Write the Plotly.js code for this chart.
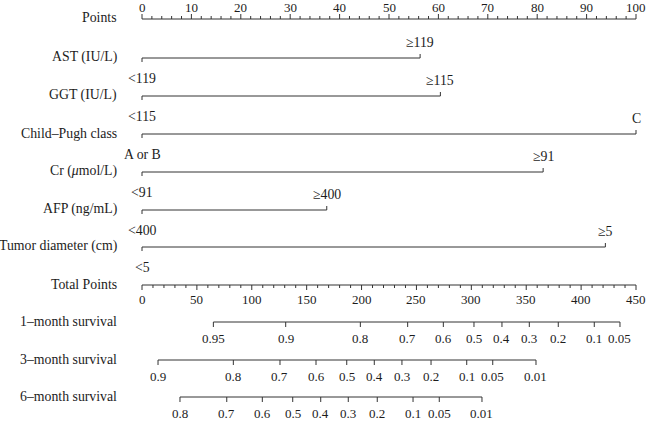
<!DOCTYPE html>
<html>
<head>
<meta charset="utf-8">
<script src="https://cdn.plot.ly/plotly-3.0.1.min.js"></script>
<style>html,body{margin:0;padding:0;background:#fff;}#chart{width:646px;height:429px;}</style>
</head>
<body>
<div id="chart"></div>
<script>
// ---------- DATA ----------
var variableNames = ['AST (IU/L)', 'GGT (IU/L)', 'Child\u2013Pugh class', 'Cr (<i>\u03bc</i>mol/L)', 'AFP (ng/mL)', 'Tumor diameter (cm)'];
var lowLevels  = ['<119', '<115', 'A or B', '<91', '<400', '<5'];
var highLevels = ['\u2265119', '\u2265115', 'C', '\u226591', '\u2265400', '\u22655'];
var highPoints = [56.3, 60.4, 100, 81.2, 37.4, 93.8];   // points for the high level (low level = 0)

var pointsTicks = [0, 10, 20, 30, 40, 50, 60, 70, 80, 90, 100];
var totalTicks  = [0, 50, 100, 150, 200, 250, 300, 350, 400, 450];

var surv1Labels = ['0.95', '0.9', '0.8', '0.7', '0.6', '0.5', '0.4', '0.3', '0.2', '0.1', '0.05'];
var surv1Total  = [65.0, 130.9, 198.9, 242.0, 274.5, 302.4, 327.9, 352.8, 379.2, 412.0, 435.4];
var surv3Labels = ['0.9', '0.8', '0.7', '0.6', '0.5', '0.4', '0.3', '0.2', '0.1', '0.05', '0.01'];
var surv3Total  = [14.6, 83.2, 125.7, 158.5, 186.5, 211.6, 236.8, 263.3, 295.8, 319.5, 358.9];
var surv6Labels = ['0.8', '0.7', '0.6', '0.5', '0.4', '0.3', '0.2', '0.1', '0.05', '0.01'];
var surv6Total  = [34.6, 77.2, 109.6, 137.3, 162.8, 187.9, 214.3, 246.9, 270.8, 309.7];
var survNames = ['1\u2013month survival', '3\u2013month survival', '6\u2013month survival'];

// ---------- LAYOUT CONSTANTS ----------
var W = 646, H = 429;
var X0 = 142, S = 4.94;              // pixel of 0 points, pixels per point
var TOTAL_MAX = 450, POINTS_MAX = 100;
var tp = function (v) { return v * POINTS_MAX / TOTAL_MAX; }; // total points -> points scale
var LABEL_X = (117.5 - X0) / S;
var LINE = '#333333', TXT = '#1c1c1c';
var FONT = 'Liberation Serif, Times New Roman, serif';
var FS_NAME = 13.8, FS_LEVEL = 13.8, FS_TICK = 13;

var rowY = [58, 96, 134, 172, 210, 247];
var pointsY = 19, totalY = 285;
var survY = [322, 360, 397];

var traces = [];
var ann = [];
function seg(xs, ys) {
  traces.push({x: xs, y: ys, mode: 'lines', type: 'scatter', hoverinfo: 'skip',
    line: {color: LINE, width: 1}, showlegend: false});
}
function txt(x, y, t, xa, size) {
  ann.push({x: x, y: y, text: t, showarrow: false, xanchor: xa || 'center', yanchor: 'middle',
    borderpad: 0, font: {family: FONT, size: size, color: TXT}});
}

// Points axis (ticks up, labels above)
(function () {
  var xs = [0, POINTS_MAX], ys = [pointsY, pointsY];
  xs.push(null); ys.push(null);
  for (var v = 0; v <= POINTS_MAX; v += 2) {
    var major = pointsTicks.indexOf(v) >= 0;
    xs.push(v, v, null); ys.push(pointsY, pointsY - (major ? 5 : 3), null);
  }
  seg(xs, ys);
  pointsTicks.forEach(function (v) { txt(v, 7, String(v), 'center', FS_TICK); });
  txt(LABEL_X, pointsY - 2, 'Points', 'right', FS_NAME);
})();

// Variable rows
variableNames.forEach(function (name, i) {
  var y = rowY[i], m = highPoints[i];
  seg([0, 0, m, m], [y + 4, y, y, y - 4]);
  txt(LABEL_X, y - 1, name, 'right', FS_NAME);
  txt(0, y + 20, lowLevels[i], 'center', FS_LEVEL);
  txt(m, y - 16, highLevels[i], 'center', FS_LEVEL);
});

// Total points axis (ticks down, labels below)
(function () {
  var xs = [tp(0), tp(TOTAL_MAX)], ys = [totalY, totalY];
  xs.push(null); ys.push(null);
  for (var v = 0; v <= TOTAL_MAX; v += 10) {
    var major = totalTicks.indexOf(v) >= 0;
    xs.push(tp(v), tp(v), null); ys.push(totalY, totalY + (major ? 5 : 3), null);
  }
  seg(xs, ys);
  totalTicks.forEach(function (v) { txt(tp(v), totalY + 14, String(v), 'center', FS_TICK); });
  txt(LABEL_X, totalY - 1, 'Total Points', 'right', FS_NAME);
})();

// Survival scales
[[surv1Total, surv1Labels], [surv3Total, surv3Labels], [surv6Total, surv6Labels]].forEach(function (s, i) {
  var vals = s[0], labs = s[1], y = survY[i];
  var xs = [tp(vals[0]), tp(vals[vals.length - 1]), null], ys = [y, y, null];
  vals.forEach(function (v) { xs.push(tp(v), tp(v), null); ys.push(y, y + 5, null); });
  seg(xs, ys);
  vals.forEach(function (v, k) { txt(tp(v), y + 16, labs[k], 'center', FS_TICK); });
  txt(LABEL_X, y - 1, survNames[i], 'right', FS_NAME);
});

var layout = {
  width: W, height: H,
  margin: {l: 0, r: 0, t: 0, b: 0, pad: 0},
  paper_bgcolor: '#fff', plot_bgcolor: '#fff',
  xaxis: {range: [-X0 / S, (W - X0) / S], visible: false, fixedrange: true},
  yaxis: {range: [H, 0], visible: false, fixedrange: true},
  annotations: ann,
  showlegend: false
};
Plotly.newPlot('chart', traces, layout, {staticPlot: true, displayModeBar: false});
</script>
</body>
</html>
